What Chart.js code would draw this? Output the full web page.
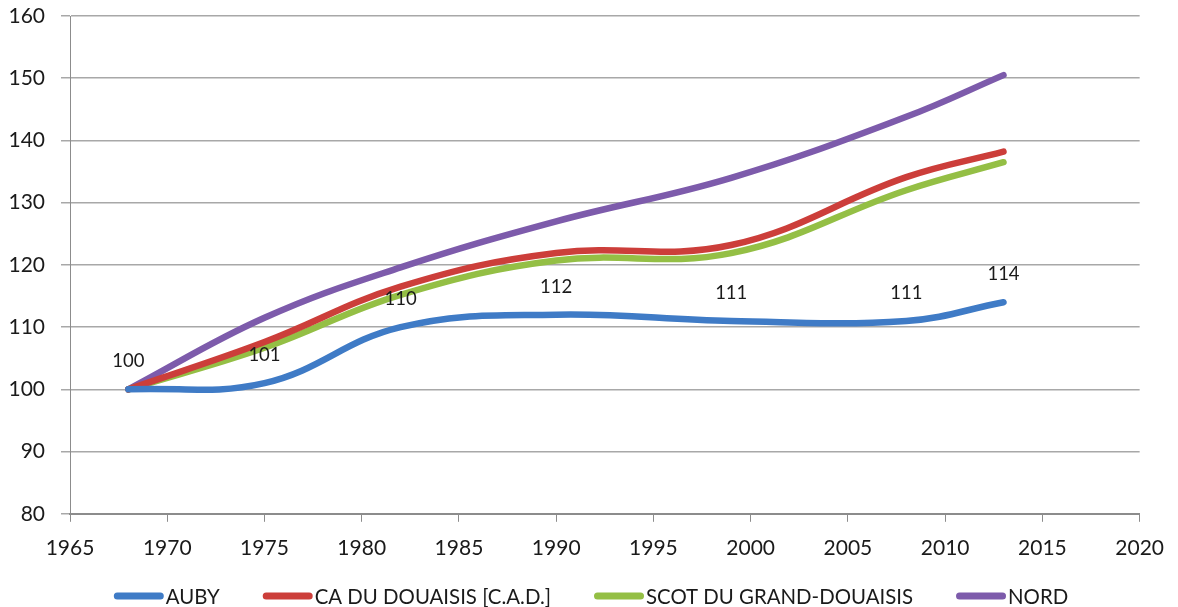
<!DOCTYPE html>
<html>
<head>
<meta charset="utf-8">
<script src="https://cdn.jsdelivr.net/npm/chart.js@4.4.1/dist/chart.umd.min.js"></script>
<style>
  html, body { margin: 0; padding: 0; background: #ffffff; }
  #wrap { width: 1178px; height: 607px; position: relative; }
</style>
</head>
<body>
<div id="wrap"><canvas id="chart" width="1178" height="607"></canvas></div>
<script>
// Census years and population indices (base 100 in 1968)
const years = [1968, 1975, 1982, 1990, 1999, 2008, 2013];
const auby = [100, 101, 110, 112, 111, 111, 114];
const cadDouaisis = [100, 107.6, 116.5, 121.9, 123.2, 134.1, 138.2];
const scotGrandDouaisis = [100, 106.7, 115.2, 120.7, 121.9, 132.0, 136.5];
const nord = [100, 111.5, 119.6, 127.0, 134.0, 143.8, 150.5];

const seriesNames = ['AUBY', 'CA DU DOUAISIS [C.A.D.]', 'SCOT DU GRAND-DOUAISIS', 'NORD'];
const seriesColors = ['#3f7bc6', '#cc3e3a', '#94bf45', '#7d5bab'];

const xTickMin = 1965, xTickMax = 2020, xTickStep = 5;
const yTickMin = 80, yTickMax = 160, yTickStep = 10;

const FONT = 'Lato, "Open Sans", "Liberation Sans", sans-serif';

function toPoints(values) {
  return values.map((v, i) => ({ x: years[i], y: v }));
}

const seriesValues = [auby, cadDouaisis, scotGrandDouaisis, nord];

const datasets = seriesValues.map((vals, i) => ({
  label: seriesNames[i],
  data: toPoints(vals),
  borderColor: seriesColors[i],
  backgroundColor: seriesColors[i],
  borderWidth: 6.5,
  tension: 0.4,
  pointRadius: 0,
  borderCapStyle: 'round',
  borderJoinStyle: 'round',
  fill: false,
  showValues: i === 0,
  order: i
}));

// Value labels above the AUBY points
const valueLabels = {
  id: 'valueLabels',
  afterDatasetsDraw(chart) {
    const ctx = chart.ctx;
    ctx.save();
    ctx.font = '18.5px ' + FONT;
    ctx.fillStyle = '#1a1a1a';
    ctx.textAlign = 'center';
    ctx.textBaseline = 'middle';
    chart.data.datasets.forEach((ds, di) => {
      if (!ds.showValues) return;
      const meta = chart.getDatasetMeta(di);
      meta.data.forEach((pt, j) => {
        const v = ds.data[j].y;
        ctx.fillText(String(Math.round(v)), pt.x, pt.y - 28);
      });
    });
    ctx.restore();
  }
};

// Bottom legend with thick rounded line swatches
const lineLegend = {
  id: 'lineLegend',
  afterDraw(chart) {
    const ctx = chart.ctx;
    ctx.save();
    ctx.font = '20.4px ' + FONT;
    ctx.textBaseline = 'middle';
    const swatch = 50, gap = 2, spacing = 43;
    const items = chart.data.datasets.map(ds => ({
      text: ds.label, color: ds.borderColor, w: swatch + gap + ctx.measureText(ds.label).width
    }));
    const total = items.reduce((s, it) => s + it.w, 0) + spacing * (items.length - 1);
    let x = (chart.width - total) / 2 + 2;
    const y = 596;
    items.forEach(it => {
      ctx.strokeStyle = it.color;
      ctx.lineWidth = 7;
      ctx.lineCap = 'round';
      ctx.beginPath();
      ctx.moveTo(x + 3.5, y);
      ctx.lineTo(x + swatch - 3.5, y);
      ctx.stroke();
      ctx.fillStyle = '#1a1a1a';
      ctx.fillText(it.text, x + swatch + gap, y + 1);
      x += it.w + spacing;
    });
    ctx.restore();
  }
};

new Chart(document.getElementById('chart'), {
  type: 'line',
  data: { datasets },
  plugins: [valueLabels, lineLegend],
  options: {
    responsive: false,
    animation: false,
    devicePixelRatio: 1,
    layout: { padding: { left: 0, right: 27, top: 16, bottom: 32 } },
    plugins: {
      legend: { display: false },
      tooltip: { enabled: false }
    },
    scales: {
      x: {
        type: 'linear',
        min: xTickMin,
        max: xTickMax,
        ticks: {
          stepSize: xTickStep,
          color: '#1a1a1a',
          font: { family: FONT, size: 21 },
          padding: 14,
          callback: v => String(v)
        },
        grid: {
          drawOnChartArea: false,
          drawTicks: true,
          tickLength: 8,
          color: '#8c8c8c',
          lineWidth: 1
        },
        border: { display: true, color: '#8c8c8c', width: 2 }
      },
      y: {
        min: yTickMin,
        max: yTickMax,
        afterFit(scale) {
          scale.width = 70;
          scale.paddingTop = 0;
          scale.paddingBottom = 0;
        },
        ticks: {
          stepSize: yTickStep,
          color: '#1a1a1a',
          font: { family: FONT, size: 21 },
          padding: 16
        },
        grid: {
          color: '#a8a8a8',
          lineWidth: 1.5,
          tickLength: 9
        },
        border: { display: true, color: '#8c8c8c', width: 1 }
      }
    }
  }
});
</script>
</body>
</html>
